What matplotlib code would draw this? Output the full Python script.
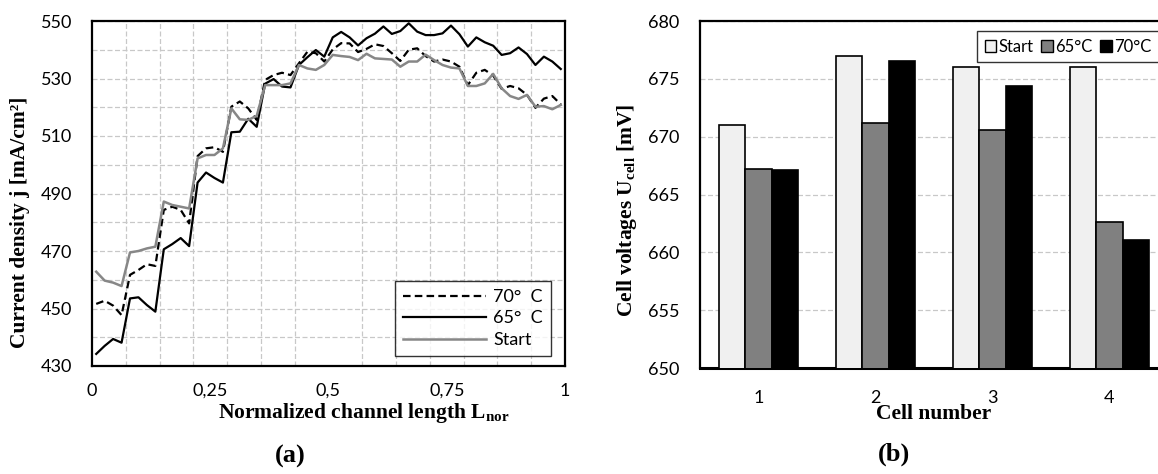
import numpy as np
import matplotlib
matplotlib.use("Agg")
from matplotlib import pyplot as plt
from matplotlib.patches import Patch

plt.rcParams['mathtext.fontset'] = 'custom'
plt.rcParams['mathtext.rm'] = 'Liberation Serif'
plt.rcParams['mathtext.bf'] = 'Liberation Serif:bold'

## data (a): current density along the channel, 56 segments
n_pts = 56
j_70 = [451.6, 452.7, 451.0, 447.7, 461.7, 463.4, 465.4, 464.8, 484.3, 485.4, 484.3, 479.6,
        503.0, 505.7, 506.1, 504.5, 520.2, 522.0, 519.6, 515.6, 529.5, 531.2, 532.0, 531.2,
        535.3, 539.3, 538.8, 535.9, 540.1, 542.3, 542.2, 539.2, 540.3, 541.9, 541.3, 538.8,
        536.1, 540.0, 540.5, 537.8, 535.9, 536.6, 535.9, 534.1, 527.7, 532.0, 533.0, 531.0,
        526.4, 527.4, 526.6, 524.3, 519.8, 523.0, 523.9, 521.0]
j_65 = [434.2, 437.0, 439.4, 438.1, 453.5, 453.9, 451.2, 448.9, 470.6, 472.4, 474.5, 471.7,
        493.8, 497.3, 495.4, 493.8, 511.3, 511.5, 516.0, 513.2, 528.2, 529.8, 527.2, 526.9,
        534.7, 537.4, 539.9, 537.6, 544.3, 546.2, 544.3, 541.5, 544.0, 545.6, 548.1, 545.5,
        546.5, 549.2, 546.3, 545.1, 545.1, 545.7, 548.4, 545.4, 541.1, 544.3, 542.6, 541.4,
        538.2, 538.8, 540.8, 538.5, 534.7, 537.6, 535.9, 533.3]
j_start = [462.8, 459.7, 459.0, 457.8, 469.5, 470.0, 470.9, 471.5, 487.2, 486.0, 485.4, 484.8,
           502.2, 503.4, 503.4, 505.7, 519.6, 515.8, 515.6, 517.0, 527.7, 527.7, 527.7, 528.3,
           534.7, 533.5, 533.0, 534.7, 538.2, 537.8, 537.5, 536.4, 538.6, 537.0, 536.8, 536.6,
           534.1, 535.9, 535.9, 538.3, 536.4, 534.7, 533.8, 533.5, 527.4, 527.4, 528.3, 531.6,
           526.6, 523.9, 522.9, 524.3, 520.2, 520.4, 519.3, 520.8]
x_ticks = [0, 0.25, 0.5, 0.75, 1]
x_ticklabels = ['0', '0,25', '0,5', '0,75', '1']

## data (b): cell voltages
cells = [1, 2, 3, 4]
u_start = [671.0, 677.0, 676.0, 676.0]
u_65 = [667.2, 671.2, 670.6, 662.6]
u_70 = [667.1, 676.5, 674.4, 661.1]

tick_font = 'Lato'
tick_size = 13
label_kw = dict(family='Liberation Serif', fontweight='bold', fontsize=15.5)

fig = plt.figure(figsize=(11.58, 4.74), dpi=100)

# ---- (a) ----
ax1 = fig.add_axes([92/1158, 108/474, 473/1158, 345/474])
x = (np.arange(n_pts) + 0.5) / n_pts
ax1.plot(x, j_70, color='black', lw=1.6, ls=(0, (3.4, 1.9)), label='70°  C', zorder=3)
ax1.plot(x, j_65, color='black', lw=1.6, label='65°  C', zorder=3)
ax1.plot(x, j_start, color='#878787', lw=1.8, label='Start', zorder=3)
ax1.set_xlim(0, 1)
ax1.set_ylim(430, 550)
ax1.set_xticks(x_ticks)
ax1.set_xticklabels(x_ticklabels)
ax1.set_xticks(np.arange(1, 14) / 14, minor=True)
ax1.set_yticks(np.arange(430, 551, 20))
ax1.set_yticks(np.arange(440, 550, 20), minor=True)
ax1.grid(which='minor', axis='x', color='#c8c8c8', ls=(0, (4, 2)), lw=0.9)
ax1.grid(which='both', axis='y', color='#c8c8c8', ls=(0, (4, 2)), lw=0.9)
ax1.set_axisbelow(True)
ax1.tick_params(which='both', length=0)
ax1.tick_params(axis='y', pad=14.4)
ax1.tick_params(axis='x', pad=12)
for lab in ax1.get_xticklabels() + ax1.get_yticklabels():
    lab.set_family(tick_font)
    lab.set_fontsize(tick_size)
for sp in ax1.spines.values():
    sp.set_linewidth(1.6)
fig.text(20/1158, 1 - 222/474, 'Current density j [mA/cm²]', rotation=90,
         ha='center', va='center', **label_kw)
fig.text(364/1158, 1 - 413/474, r'Normalized channel length L$_{\mathbf{nor}}$',
         ha='center', va='center', **label_kw)
leg1 = ax1.legend(loc='lower right', bbox_to_anchor=(0.970, 0.029), borderaxespad=0,
                  frameon=True, fancybox=False, edgecolor='black', handlelength=4.6,
                  handletextpad=0.4, labelspacing=0.3, borderpad=0.45,
                  prop={'family': tick_font, 'size': tick_size})
leg1.get_frame().set_linewidth(1.0)

# ---- (b) ----
ax2 = fig.add_axes([700/1158, 106/474, 468/1158, 347/474])
w = 0.225
pos = np.array(cells)
ax2.bar(pos - w, u_start, w, color='#f0f0f0', edgecolor='black', lw=1.2, label='Start', zorder=3)
ax2.bar(pos, u_65, w, color='#808080', edgecolor='black', lw=1.2, label='65°C', zorder=3)
ax2.bar(pos + w, u_70, w, color='black', edgecolor='black', lw=1.2, label='70°C', zorder=3)
ax2.set_xlim(0.5, 4.5)
ax2.set_ylim(650, 680)
ax2.set_xticks(cells)
ax2.set_yticks(np.arange(650, 681, 5))
ax2.grid(axis='y', color='#c8c8c8', ls=(0, (4, 2)), lw=0.9)
ax2.set_axisbelow(True)
ax2.tick_params(which='both', length=0)
ax2.tick_params(axis='y', pad=15)
ax2.tick_params(axis='x', pad=16)
for lab in ax2.get_xticklabels() + ax2.get_yticklabels():
    lab.set_family(tick_font)
    lab.set_fontsize(tick_size)
for sp in ax2.spines.values():
    sp.set_linewidth(1.6)
ax2.spines['bottom'].set_linewidth(2.2)
fig.text(627/1158, 1 - 210/474, r'Cell voltages U$_{\mathbf{cell}}$ [mV]', rotation=90,
         ha='center', va='center', **label_kw)
fig.text(934/1158, 1 - 414/474, 'Cell number', ha='center', va='center', **label_kw)
handles = [Patch(facecolor='#f0f0f0', edgecolor='black', lw=1.0),
           Patch(facecolor='#808080', edgecolor='black', lw=1.0),
           Patch(facecolor='black', edgecolor='black', lw=1.0)]
leg2 = ax2.legend(handles, ['Start', '65°C', '70°C'], ncol=3, loc='upper left',
                  bbox_to_anchor=((977 - 700) / 468, (368 - 31) / 347), borderaxespad=0,
                  frameon=True, fancybox=False, edgecolor='black', handlelength=0.7,
                  handleheight=0.7, handletextpad=0.15, columnspacing=0.45, borderpad=0.45,
                  prop={'family': tick_font, 'size': 12})
leg2.get_frame().set_linewidth(1.0)

fig.text(290/1158, 1 - 456/474, '(a)', ha='center', va='center',
         family='Liberation Serif', fontweight='bold', fontsize=19)
fig.text(894/1158, 1 - 454/474, '(b)', ha='center', va='center',
         family='Liberation Serif', fontweight='bold', fontsize=19)

plt.savefig('out.png', dpi=100)
